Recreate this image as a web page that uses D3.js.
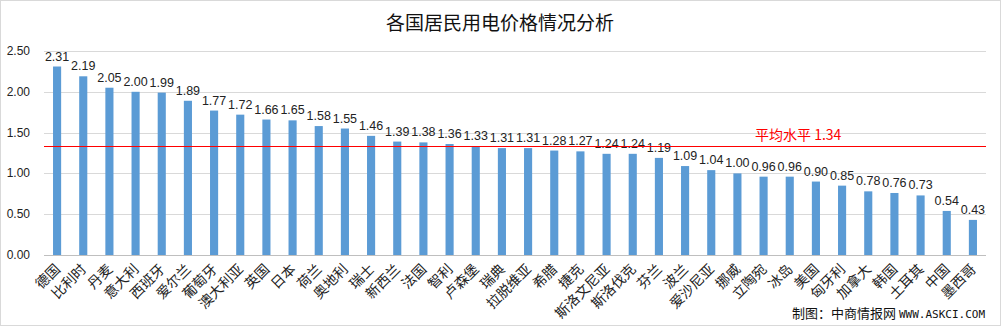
<!DOCTYPE html>
<html lang="zh">
  <head>
    <meta charset="UTF-8" />
    <title>各国居民用电价格情况分析</title>
    <script src="https://d3js.org/d3.v7.min.js"></script>
    <style>
      body { margin: 0; background: #fff; }
      svg { display: block; font-family: "Liberation Sans", "Noto Sans CJK SC", sans-serif; }
      .cn { font-family: "Noto Sans CJK SC", sans-serif; }
    </style>
  </head>
  <body>
    <svg id="chart" width="1001" height="326"></svg>
    <script>
      const countries = ['德国', '比利时', '丹麦', '意大利', '西班牙', '爱尔兰', '葡萄牙', '澳大利亚', '英国', '日本',
        '荷兰', '奥地利', '瑞士', '新西兰', '法国', '智利', '卢森堡', '瑞典', '拉脱维亚', '希腊',
        '捷克', '斯洛文尼亚', '斯洛伐克', '芬兰', '波兰', '爱沙尼亚', '挪威', '立陶宛', '冰岛', '美国',
        '匈牙利', '加拿大', '韩国', '土耳其', '中国', '墨西哥']
      const prices = [2.31, 2.19, 2.05, 2.00, 1.99, 1.89, 1.77, 1.72, 1.66, 1.65,
        1.58, 1.55, 1.46, 1.39, 1.38, 1.36, 1.33, 1.31, 1.31, 1.28,
        1.27, 1.24, 1.24, 1.19, 1.09, 1.04, 1.00, 0.96, 0.96, 0.90,
        0.85, 0.78, 0.76, 0.73, 0.54, 0.43]
      const yTicks = [0, 0.5, 1, 1.5, 2, 2.5]
      const average = 1.34

      const width = 1001
      const height = 326
      const svg = d3.select('#chart')

      // light frame round the whole chart
      svg.append('rect')
        .attr('x', 0.5).attr('y', 0.5)
        .attr('width', width - 1).attr('height', height - 1)
        .attr('fill', '#fff').attr('stroke', '#d9d9d9')

      const x = d3.scaleBand()
        .domain(countries)
        .range([44, 986])
        .paddingInner(0.69)
        .paddingOuter(0.345)

      const y = d3.scaleLinear()
        .domain([0, 2.5])
        .range([255, 51])

      // gridlines
      svg.append('g')
        .selectAll('line')
        .data(yTicks)
        .join('line')
        .attr('x1', 44).attr('x2', 986)
        .attr('y1', d => Math.round(y(d)) + 0.5)
        .attr('y2', d => Math.round(y(d)) + 0.5)
        .attr('stroke', d => d === 0 ? '#bfbfbf' : '#d9d9d9')

      // y tick labels
      svg.append('g')
        .selectAll('text')
        .data(yTicks)
        .join('text')
        .attr('x', 30)
        .attr('y', d => y(d) + 4)
        .attr('text-anchor', 'end')
        .attr('font-size', 12)
        .attr('fill', '#222')
        .text(d => d3.format('.2f')(d))

      // bars
      svg.append('g')
        .selectAll('rect')
        .data(prices)
        .join('rect')
        .attr('x', (d, i) => x(countries[i]))
        .attr('width', x.bandwidth())
        .attr('y', d => y(d))
        .attr('height', d => y(0) - y(d))
        .attr('fill', '#5b9bd5')

      // value labels
      svg.append('g')
        .selectAll('text')
        .data(prices)
        .join('text')
        .attr('x', (d, i) => x(countries[i]) + x.bandwidth() / 2)
        .attr('y', d => y(d) - 6)
        .attr('text-anchor', 'middle')
        .attr('font-size', 12.5)
        .attr('fill', '#222')
        .text(d => d3.format('.2f')(d))

      // category labels, slanted
      svg.append('g')
        .selectAll('text')
        .data(countries)
        .join('text')
        .attr('class', 'cn')
        .attr('transform', d => `translate(${x(d) + x.bandwidth() / 2 + 4},${270}) rotate(-45)`)
        .attr('text-anchor', 'end')
        .attr('font-size', 14)
        .attr('fill', '#222')
        .text(d => d)

      // average line
      const avgY = Math.round(y(average)) + 0.5
      svg.append('line')
        .attr('x1', 44).attr('x2', 986)
        .attr('y1', avgY).attr('y2', avgY)
        .attr('stroke', '#ff0000')
        .attr('stroke-width', 1)

      svg.append('text')
        .attr('class', 'cn')
        .attr('x', 755)
        .attr('y', avgY - 7)
        .attr('font-size', 14)
        .attr('fill', '#ff0000')
        .text('平均水平 ' + average.toFixed(2))

      // title
      svg.append('text')
        .attr('class', 'cn')
        .attr('x', 500)
        .attr('y', 30)
        .attr('text-anchor', 'middle')
        .attr('font-size', 19)
        .attr('fill', '#111')
        .text('各国居民用电价格情况分析')

      // source note
      svg.append('text')
        .attr('class', 'cn')
        .attr('x', 985)
        .attr('y', 318)
        .attr('text-anchor', 'end')
        .attr('font-size', 13)
        .attr('fill', '#111')
        .text('制图：中商情报网 ')
        .append('tspan')
        .attr('font-family', 'DejaVu Sans Mono, monospace')
        .attr('font-size', 11)
        .text('WWW.ASKCI.COM')
    </script>
  </body>
</html>
